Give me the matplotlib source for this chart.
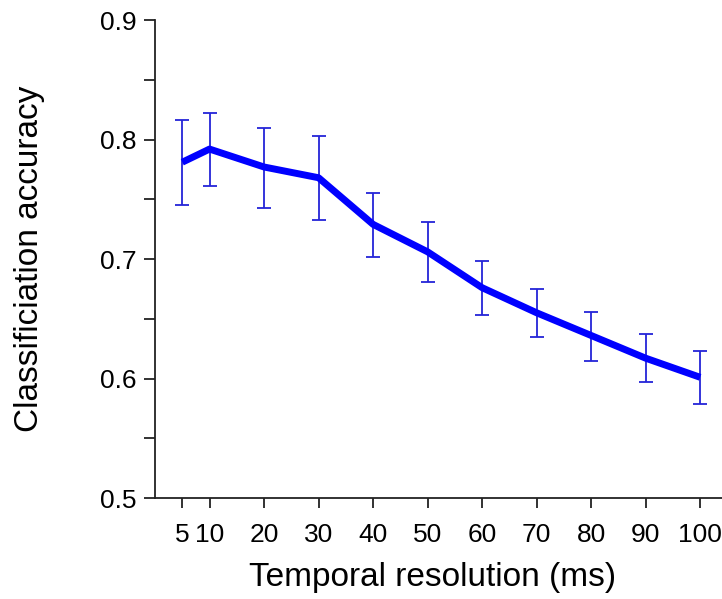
import numpy as np
import matplotlib
import matplotlib.pyplot as plt
from matplotlib.ticker import MultipleLocator, FormatStrFormatter

matplotlib.use('Agg')
plt.rcParams['font.family'] = ['Liberation Sans', 'DejaVu Sans']

# Temporal resolution (ms) and mean classification accuracy
resolution = [5, 10, 20, 30, 40, 50, 60, 70, 80, 90, 100]
accuracy = [0.781, 0.792, 0.777, 0.768, 0.729, 0.706, 0.676, 0.655, 0.636, 0.617, 0.601]
err_upper = [0.816, 0.822, 0.810, 0.803, 0.755, 0.731, 0.698, 0.675, 0.656, 0.637, 0.623]
err_lower = [0.745, 0.761, 0.743, 0.733, 0.702, 0.681, 0.653, 0.635, 0.615, 0.597, 0.579]
xtick_labels = ['5', '10', '20', '30', '40', '50', '60', '70', '80', '90', '100']

acc = np.array(accuracy)
yerr = [acc - np.array(err_lower), np.array(err_upper) - acc]

fig = plt.figure(figsize=(7.22, 5.99), dpi=100)
ax = fig.add_axes([0.2147, 0.1686, 0.7853, 0.798])

# error bars first, then the thick mean line on top
ax.errorbar(resolution, accuracy, yerr=yerr, fmt='none', ecolor='#2424d8',
            elinewidth=1.3, capsize=5, capthick=1.3, zorder=2)
ax.plot(resolution, accuracy, color='#0000ff', lw=5, solid_capstyle='butt', zorder=3)

ax.set_xlim(0, 104)
ax.set_ylim(0.5, 0.9)
ax.set_xticks(resolution)
ax.set_xticklabels(xtick_labels)
ax.yaxis.set_major_locator(MultipleLocator(0.1))
ax.yaxis.set_minor_locator(MultipleLocator(0.05))
ax.yaxis.set_major_formatter(FormatStrFormatter('%.1f'))

for s in ['top', 'right']:
    ax.spines[s].set_visible(False)
for s in ['left', 'bottom']:
    ax.spines[s].set_linewidth(1.3)
    ax.spines[s].set_color('#222222')

ax.tick_params(axis='both', which='both', direction='out', length=8, width=1.3,
               color='#222222', labelsize=19, pad=5)
ax.tick_params(axis='y', which='minor', length=8)
ax.tick_params(axis='x', length=7, pad=11)

ax.set_xlabel('Temporal resolution (ms)', fontsize=24)
ax.set_ylabel('Classificiation accuracy', fontsize=24, labelpad=40)
ax.xaxis.set_label_coords(0.49, -0.133, transform=ax.transAxes)

fig.savefig('out.png', dpi=100)
